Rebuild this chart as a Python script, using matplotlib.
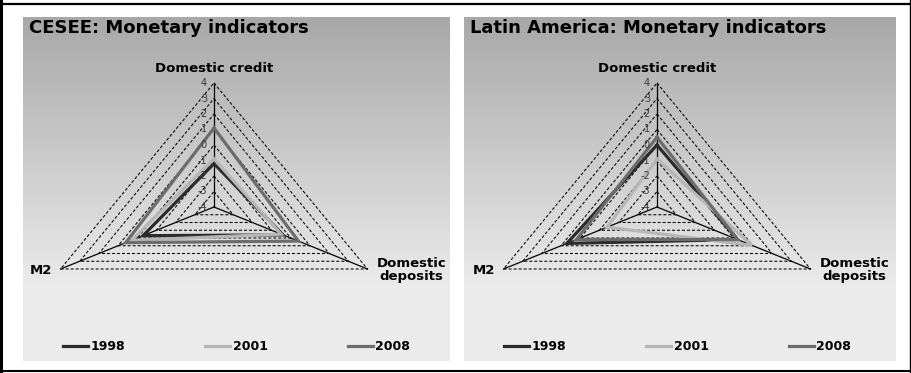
import numpy as np
import matplotlib.pyplot as plt

plt.rcParams['font.family'] = ['DejaVu Sans']

# radar axes, clockwise from the top
spokes = ["Domestic credit", "Domestic deposits", "M2"]
years = ["1998", "2001", "2008"]
levels = list(range(-4, 5))

cesee_1998 = [-1.2, -0.4, -0.3]
cesee_2001 = [-0.9, -0.5, 0.3]
cesee_2008 = [1.1, 0.4, 0.6]

latam_1998 = [0.0, 0.2, 0.7]
latam_2001 = [-0.9, 0.95, -1.4]
latam_2008 = [0.5, 0.2, 0.2]

colors = ["#2b2b2b", "#b6b6b6", "#6c6c6c"]

W, H = 912, 373
fig = plt.figure(figsize=(W / 100, H / 100), dpi=100)

# background layer in pixel units
bg = fig.add_axes([0, 0, 1, 1])
bg.set_xlim(0, W)
bg.set_ylim(H, 0)
bg.axis('off')

TOP, BOT = 17, 361
rows = np.arange(TOP, BOT)
t = np.clip((rows - TOP) / ((BOT - TOP) * 0.78), 0, 1)
g = (168 + (235 - 168) * t) / 255.0
grad = np.dstack([g, g, g]).reshape(len(rows), 1, 3)
for x0, x1 in [(23, 450), (464, 896)]:
    bg.imshow(grad, extent=(x0, x1, BOT, TOP), aspect='auto', origin='upper')

bg.plot([1.5, 1.5], [0, H], color='k', lw=2.2)
bg.plot([0, W], [4, 4], color='k', lw=1.6)
bg.plot([0, W], [370.5, 370.5], color='k', lw=1.5)
bg.plot([910.5, 910.5], [0, H], color='k', lw=1.0)
bg.set_xlim(0, W)
bg.set_ylim(H, 0)

RX = 153.5 / np.sin(np.radians(120))
RY = 124.0
theta = np.radians([0, 120, 240])


def xy(vals):
    r = (np.array(vals, dtype=float) + 4) / 8.0
    return r * np.sin(theta) * RX, r * np.cos(theta) * RY


def radar(x0, x1, cx, cy, title, series):
    ax = fig.add_axes([x0 / W, 1 - BOT / H, (x1 - x0) / W, (BOT - TOP) / H])
    ax.set_xlim(x0 - cx, x1 - cx)
    ax.set_ylim(cy - BOT, cy - TOP)
    ax.axis('off')

    # dotted level triangles
    for lev in levels[1:]:
        x, y = xy([lev] * 3)
        ax.plot(np.append(x, x[0]), np.append(y, y[0]), color='k', lw=0.75,
                ls=(0, (2.9, 1.9)))
    # spokes
    xo, yo = xy([levels[-1]] * 3)
    for i in range(3):
        ax.plot([0, xo[i]], [0, yo[i]], color='k', lw=0.9)

    handles = []
    for vals, c in zip(series, colors):
        x, y = xy(vals)
        h, = ax.plot(np.append(x, x[0]), np.append(y, y[0]), color=c, lw=2.3,
                     solid_joinstyle='miter')
        handles.append(h)

    for lev in levels:
        ax.text(-7, xy([lev] * 3)[1][0], str(lev), ha='right', va='center',
                fontsize=7, color='#3a3a3a', zorder=5)

    ax.text(0, yo[0] + 14, spokes[0], ha='center', va='center',
            fontsize=9.5, fontweight='bold')
    ax.text(xo[1] + 44, yo[1] - 1, "Domestic\ndeposits", ha='center',
            va='center', fontsize=9.5, fontweight='bold', linespacing=1.05)
    ax.text(xo[2] - 8, yo[2] - 1, spokes[2], ha='right', va='center',
            fontsize=9.5, fontweight='bold')

    ax.text(x0 + 6 - cx, cy - 28, title, ha='left', va='center',
            fontsize=13, fontweight='bold')

    ax.legend(handles, years, loc='center left', bbox_to_anchor=(x0 + 40 - cx, cy - 347),
              bbox_transform=ax.transData, ncol=3, frameon=False,
              handlelength=2.0, handletextpad=0.2, columnspacing=6.4,
              borderpad=0, borderaxespad=0,
              prop={'weight': 'bold', 'size': 9})
    return ax


radar(23, 450, 214, 207, "CESEE: Monetary indicators",
      [cesee_1998, cesee_2001, cesee_2008])
radar(464, 896, 657, 207, "Latin America: Monetary indicators",
      [latam_1998, latam_2001, latam_2008])

fig.savefig("out.png", dpi=100)
